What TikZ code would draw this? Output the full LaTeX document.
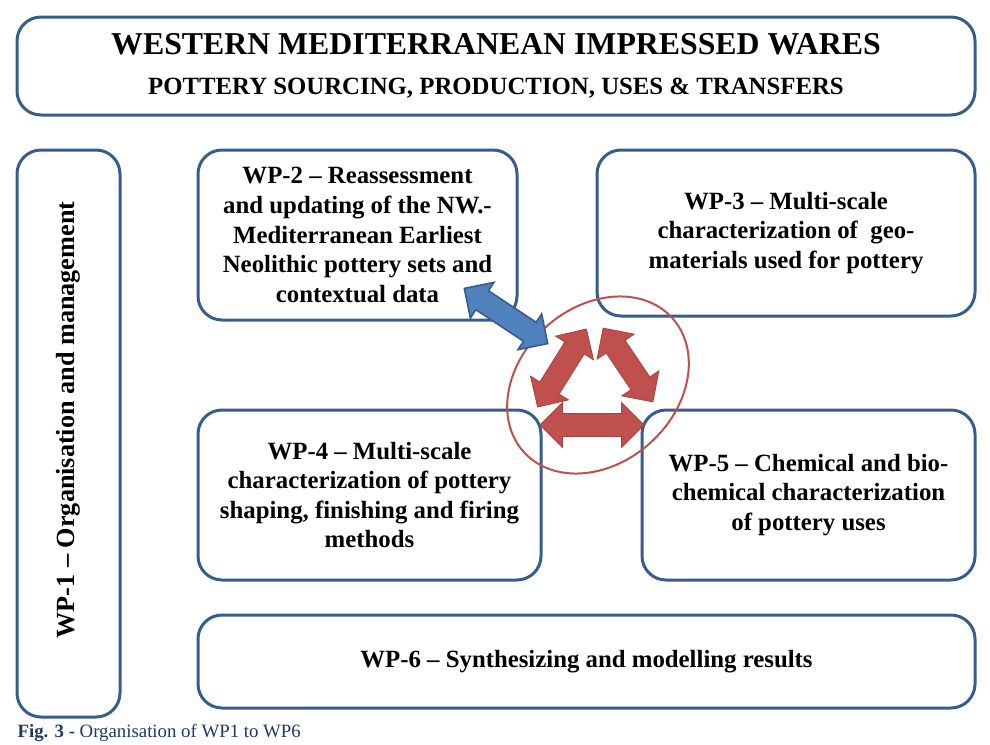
\documentclass[tikz,border=0pt]{standalone}
\usepackage{fontspec}
\setmainfont{Liberation Serif}
\usetikzlibrary{shapes.geometric,shapes.arrows,positioning}

\definecolor{wpblue}{RGB}{56,93,138}
\definecolor{wpred}{RGB}{192,80,77}
\definecolor{linkblue}{RGB}{79,129,189}
\definecolor{capblue}{RGB}{31,56,100}

\tikzset{
  wpbox/.style={draw=wpblue, line width=1.5pt, rounded corners=12pt,
    align=center, inner sep=0pt,
    font=\bfseries\fontsize{12.4}{14.8}\selectfont},
  redarrow/.style={double arrow, fill=wpred, draw=wpred!85!black,
    line width=0.4pt, inner sep=5.5pt, double arrow head extend=5.5pt,
    minimum height=#1},
  bluearrow/.style={double arrow, fill=linkblue, draw=wpblue,
    line width=0.8pt, inner sep=5.3pt, double arrow head extend=5pt,
    minimum height=#1}
}

\begin{document}
\begin{tikzpicture}[x=0.5pt, y=0.5pt, semithick]
  \useasboundingbox (0,0) rectangle (990,-744);

  % title
  \node[wpbox, minimum width=479pt, minimum height=49pt] (title) at (496,-66)
    {{\fontsize{15.9}{18}\selectfont WESTERN MEDITERRANEAN IMPRESSED WARES}\\[5pt]
     {\fontsize{12.4}{14}\selectfont POTTERY SOURCING, PRODUCTION, USES \& TRANSFERS}};

  % work packages
  \node[wpbox, minimum width=51.5pt, minimum height=283.5pt] (wp1) at (68.5,-433.5) {};
  \node[rotate=90, font=\bfseries\fontsize{13.1}{15}\selectfont] (wp1text) at (68,-420)
    {WP-1 -- Organisation and management};
  \node[wpbox, minimum width=159.5pt, minimum height=85pt] (wp2) at (357.5,-235)
    {WP-2 -- Reassessment\\and updating of the NW.-\\Mediterranean Earliest\\
     Neolithic pottery sets and\\contextual data};
  \node[wpbox, minimum width=189pt, minimum height=83pt] (wp3) at (786,-233)
    {WP-3 -- Multi-scale\\characterization of~ geo-\\materials used for pottery};
  \node[wpbox, minimum width=171.5pt, minimum height=85pt] (wp4) at (369.5,-495)
    {WP-4 -- Multi-scale\\characterization of pottery\\shaping, finishing and firing\\methods};
  \node[wpbox, minimum width=166.5pt, minimum height=85pt] (wp5) at (808.5,-495)
    {WP-5 -- Chemical and bio-\\chemical characterization\\of pottery uses};
  \node[wpbox, minimum width=388.5pt, minimum height=46.5pt] (wp6) at (586.5,-661.5)
    {WP-6 -- Synthesizing and modelling results};

  % exchange cycle
  \node[ellipse, draw=wpred, line width=1pt, minimum width=100pt,
        minimum height=78pt, rotate=42] (cycle) at (598,-385) {};
  \node[bluearrow=50pt, rotate=-33.5] (link) at (506,-316) {};
  \node[redarrow=46pt, rotate=58] (arrowleft) at (562,-368) {};
  \node[redarrow=44.5pt, rotate=-56] (arrowright) at (628,-365) {};
  \node[redarrow=52pt] (arrowbottom) at (592,-425) {};

  % caption
  \node[anchor=base west, inner sep=0pt, text=capblue, font=\fontsize{9.4}{11}\selectfont]
    (caption) at (17,-737) {\textbf{Fig. 3 -} Organisation of WP1 to WP6};
\end{tikzpicture}
\end{document}
